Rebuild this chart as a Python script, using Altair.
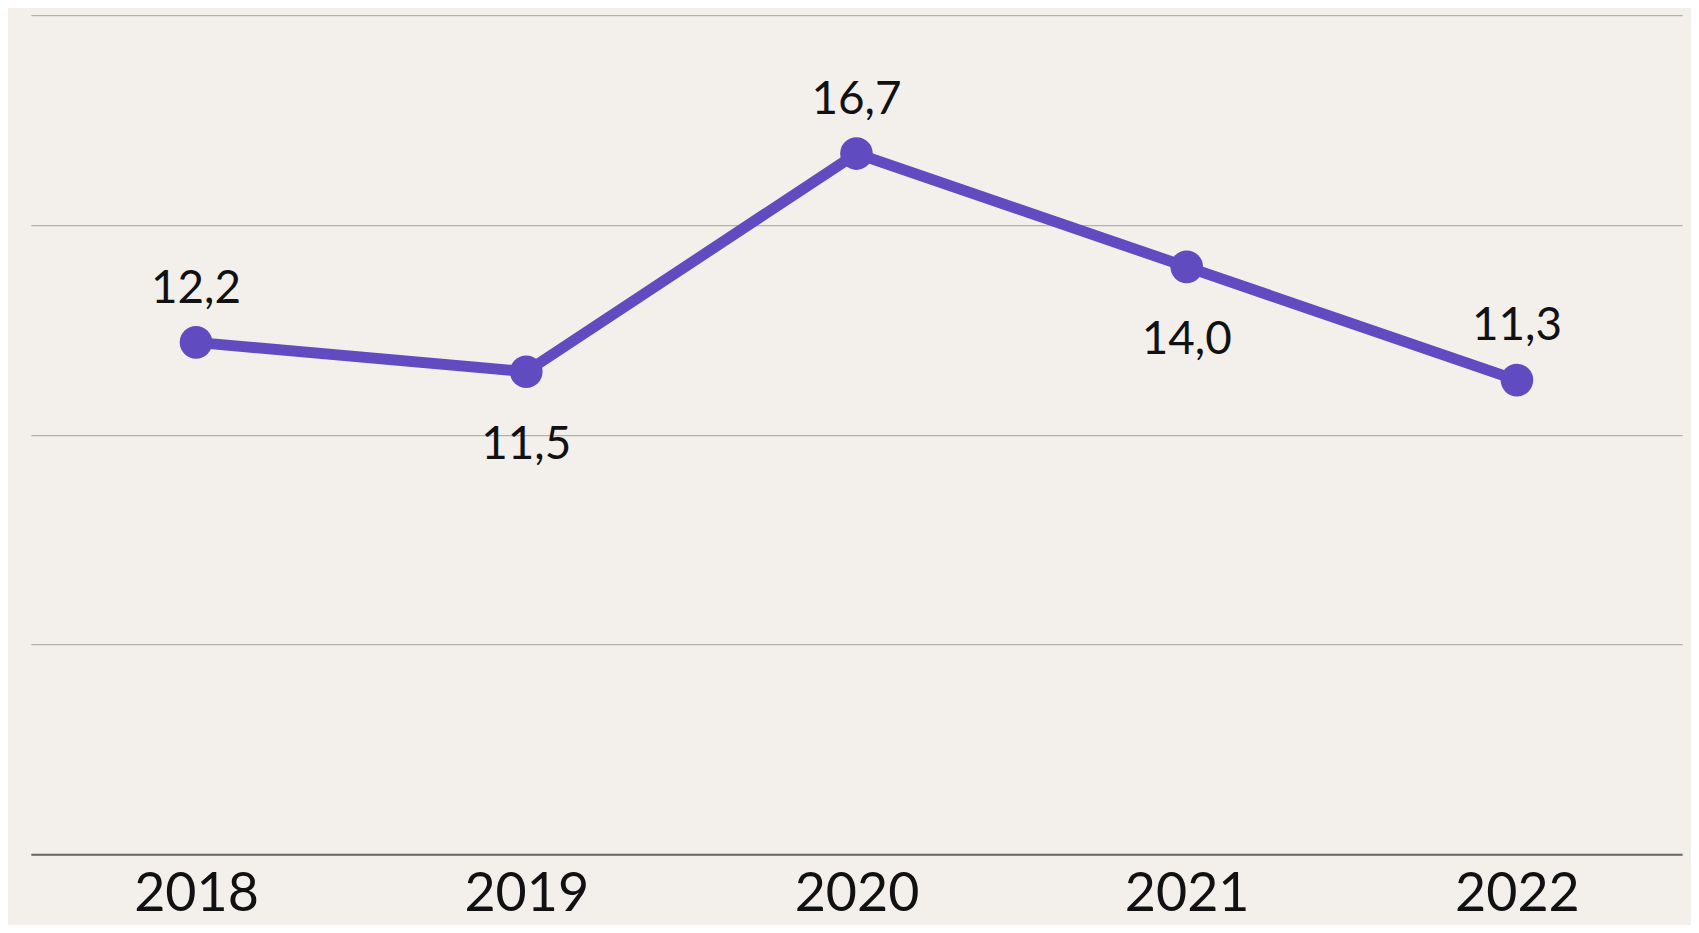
import altair as alt
import pandas as pd

years = ["2018", "2019", "2020", "2021", "2022"]
values = [12.2, 11.5, 16.7, 14.0, 11.3]
labels = ["12,2", "11,5", "16,7", "14,0", "11,3"]
label_side = ["above", "below", "above", "below", "above"]
grid_values = [0, 5, 10, 15, 20]

df = pd.DataFrame({"year": years, "value": values, "label": labels, "side": label_side})

PURPLE = "#614bc0"
FONT = "Lato"

x = alt.X(
    "year:O",
    sort=years,
    scale=alt.Scale(type="point", padding=0.5),
    axis=alt.Axis(
        title=None, domain=True, domainColor="#666666", domainWidth=2,
        ticks=False, tickSize=0, labelAngle=0, labelFont=FONT, labelFontSize=54,
        labelColor="#111111", labelPadding=57, labelBaseline="alphabetic", grid=False,
    ),
)
y = alt.Y(
    "value:Q",
    scale=alt.Scale(domain=[0, 20], nice=False, zero=True),
    axis=alt.Axis(
        title=None, labels=False, ticks=False, domain=False, grid=True,
        values=grid_values, gridColor="#b4b0ad", gridWidth=1.3,
    ),
)

base = alt.Chart(df).encode(x=x, y=y)

line = base.mark_line(color=PURPLE, strokeWidth=11)
points = base.mark_circle(color=PURPLE, size=1075, opacity=1)

text_above = base.transform_filter(alt.datum.side == "above").mark_text(
    font=FONT, fontSize=46, color="#111111", baseline="alphabetic", dy=-40
).encode(text="label:N")
text_below = base.transform_filter(alt.datum.side == "below").mark_text(
    font=FONT, fontSize=46, color="#111111", baseline="alphabetic", dy=88
).encode(text="label:N")

chart = (
    alt.layer(line, points, text_above, text_below)
    .properties(
        width=1659, height=843,
        autosize=alt.AutoSizeParams(type="none"),
        padding={"left": 23, "top": 5, "right": 9, "bottom": 69},
        background="#f3f0ec",
    )
    .configure_view(stroke=None)
)

chart.save("out.html", embed_options={"renderer": "svg", "actions": False})
